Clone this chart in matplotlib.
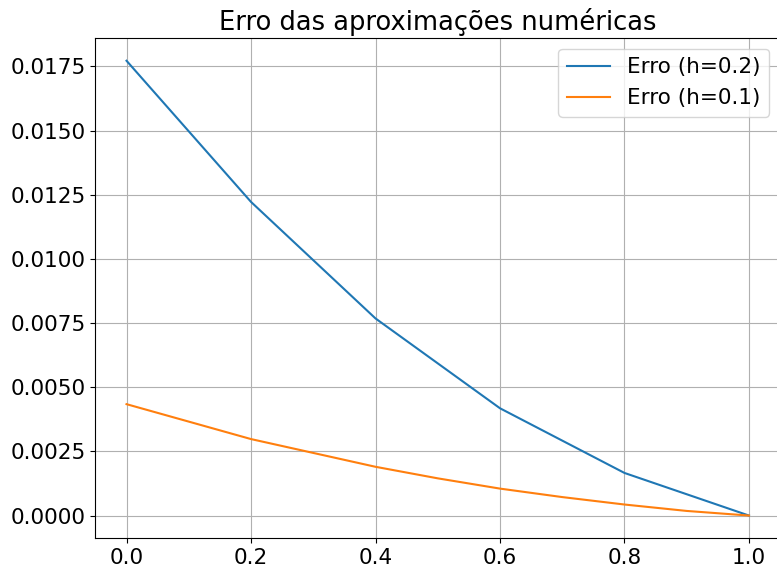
import matplotlib
matplotlib.use("Agg")
import matplotlib.pyplot as plt
import numpy as np

x_h02 = [0.0, 0.2, 0.4, 0.6, 0.8, 1.0]
erro_h02 = [0.01772, 0.01222, 0.00768, 0.00418, 0.00166, 0.0]

x_h01 = [0.0, 0.1, 0.2, 0.3, 0.4, 0.5, 0.6, 0.7, 0.8, 0.9, 1.0]
erro_h01 = [0.00434, 0.00366, 0.00298, 0.00244, 0.00190, 0.00145, 0.00105, 0.00072, 0.00043, 0.00018, 0.0]

plt.rcParams['font.size'] = 15.5

fig = plt.figure(figsize=(7.77, 5.68), dpi=100)
ax = fig.add_axes([95.4 / 777, 1 - 538.3 / 568, 684.7 / 777, 500.3 / 568])
ax.plot(x_h02, erro_h02, label="Erro (h=0.2)")
ax.plot(x_h01, erro_h01, label="Erro (h=0.1)")
ax.set_title("Erro das aproximações numéricas", fontsize=18.5)
ax.set_xticks([0.0, 0.2, 0.4, 0.6, 0.8, 1.0])
ax.grid(True)
ax.legend(loc="upper right")
fig.savefig("out.png", dpi=100)
